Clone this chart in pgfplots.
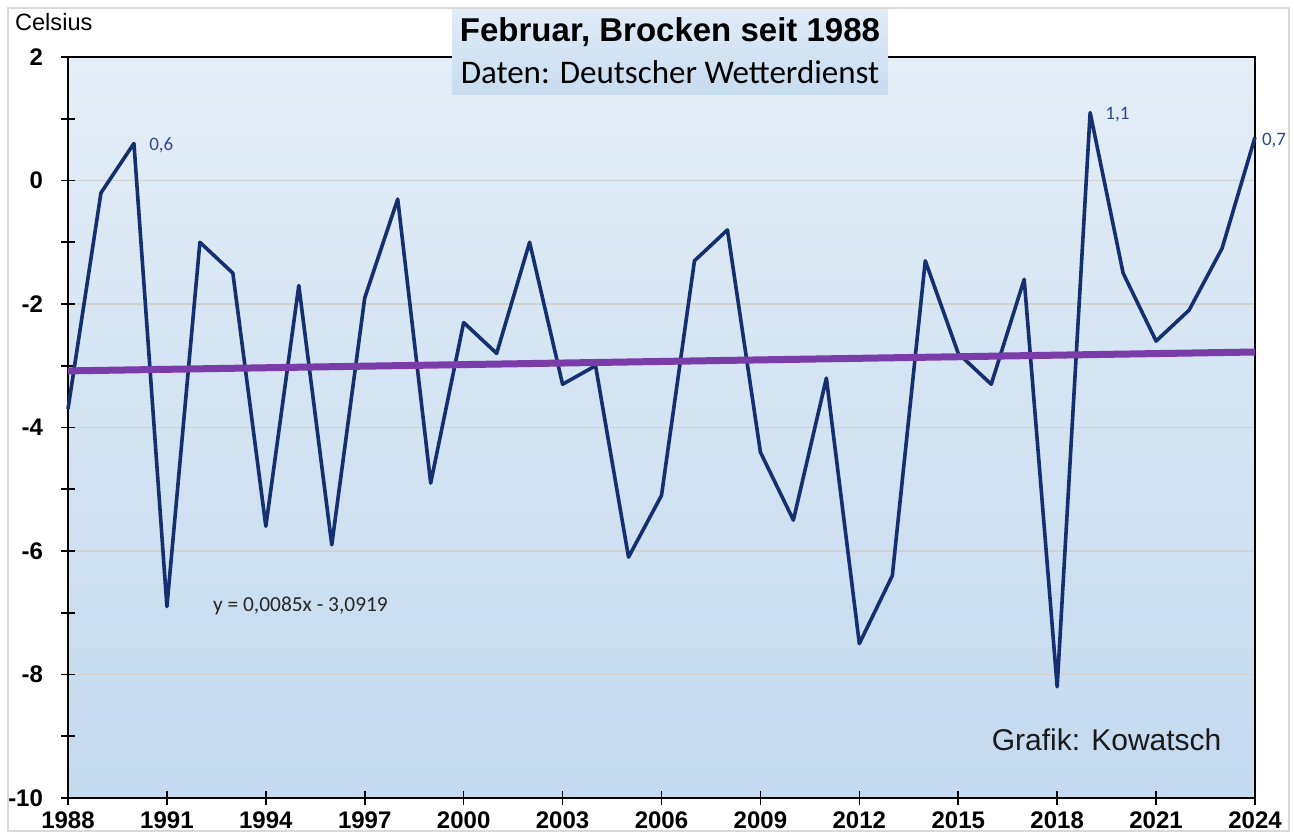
\documentclass[border=0pt]{standalone}
\usepackage{pgfplots}
\pgfplotsset{compat=1.18}
\usepackage{fontspec}
\setmainfont{Liberation Sans}
\newfontfamily\calibri{Carlito}
\definecolor{navyLine}{HTML}{14306E}
\definecolor{trendPurple}{HTML}{7A3CA8}
\definecolor{lblBlue}{HTML}{2F4A8A}
\definecolor{bgtop}{HTML}{F6F9FC}
\definecolor{bgmid}{HTML}{D6E5F3}
\definecolor{bgdark}{HTML}{BCD5ED}
\definecolor{bgbot}{HTML}{CCDFF1}
\definecolor{ttop}{HTML}{EEF4FA}
\definecolor{tbot}{HTML}{B9D3EC}
\pgfdeclareverticalshading{bgshade}{100bp}{color(0bp)=(bgbot); color(12bp)=(bgdark); color(55bp)=(bgmid); color(100bp)=(bgtop)}
\pgfdeclareverticalshading{titleshade}{100bp}{color(0bp)=(tbot); color(100bp)=(ttop)}

\begin{document}
\begin{tikzpicture}
\path[use as bounding box] (-34pt,-19pt) rectangle (613pt,399pt);
\draw[black!15,line width=0.6pt] (-30pt,-16.5pt) rectangle (610.5pt,395pt);
\begin{axis}[scale only axis,width=593.5pt,height=370.5pt,
  xmin=1988,xmax=2024,ymin=-10,ymax=2,
  xtick={1988,1991,...,2024},ytick={-10,-8,...,2},minor ytick={-9,-7,...,1},
  xtick pos=bottom,ytick pos=left,
  /pgf/number format/assume math mode=true,
  x tick label style={/pgf/number format/1000 sep={}},
  tick label style={font=\fontsize{12}{14}\selectfont\bfseries},
  yticklabel style={xshift=-5.5pt},
  tick align=center,major tick length=7pt,minor tick length=7pt,
  tick style={black,line width=0.8pt},
  axis line style={black,line width=1pt},
  ymajorgrids,major grid style={black!18,line width=0.6pt},
  axis background/.style={shading=bgshade},
  clip=false]
\addplot[navyLine,line width=1.8pt,line join=round] coordinates {
(1988,-3.7) (1989,-0.2) (1990,0.6) (1991,-6.9) (1992,-1.0) (1993,-1.5) (1994,-5.6)
(1995,-1.7) (1996,-5.9) (1997,-1.9) (1998,-0.3) (1999,-4.9) (2000,-2.3) (2001,-2.8)
(2002,-1.0) (2003,-3.3) (2004,-3.0) (2005,-6.1) (2006,-5.1) (2007,-1.3) (2008,-0.8)
(2009,-4.4) (2010,-5.5) (2011,-3.2) (2012,-7.5) (2013,-6.4) (2014,-1.3) (2015,-2.8)
(2016,-3.3) (2017,-1.6) (2018,-8.2) (2019,1.1) (2020,-1.5) (2021,-2.6) (2022,-2.1)
(2023,-1.1) (2024,0.7)};
\addplot[trendPurple,line width=3.5pt] coordinates {(1988,-3.0834) (2024,-2.7774)};
\node[anchor=west,text=lblBlue,font=\calibri\fontsize{9.5}{11}\selectfont] at (axis cs:1990.25,0.57) {0,6};
\node[anchor=west,text=lblBlue,font=\calibri\fontsize{9.5}{11}\selectfont] at (axis cs:2019.25,1.07) {1,1};
\node[anchor=west,text=lblBlue,font=\calibri\fontsize{9.5}{11}\selectfont] at (axis cs:2024.0,0.65) {0,7};
\node[text=black!85,font=\calibri\fontsize{10.7}{12}\selectfont] at (axis cs:1995.05,-6.89) {y = 0,0085x - 3,0919};
\node[text=black!90,font=\fontsize{15}{17}\selectfont] at (axis cs:2019.5,-9.06) {Grafik: Kowatsch};
\end{axis}
\path[shading=titleshade] (192pt,351.5pt) rectangle (410pt,394pt);
\node[font=\fontsize{16.5}{18}\selectfont\bfseries] at (301pt,383pt) {Februar, Brocken seit 1988};
\node[font=\calibri\fontsize{16.5}{18}\selectfont] at (301pt,363pt) {Daten: Deutscher Wetterdienst};
\node[anchor=west,font=\fontsize{11.8}{13}\selectfont] at (-30pt,388pt) {Celsius};
\end{tikzpicture}
\end{document}
